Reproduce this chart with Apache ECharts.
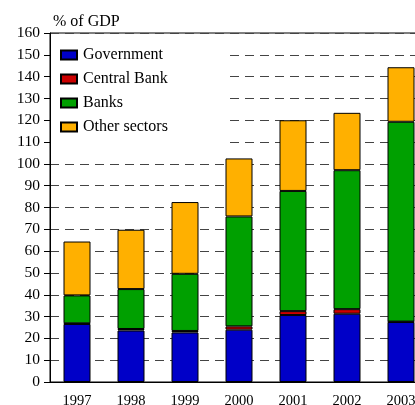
<!DOCTYPE html>
<html><head><meta charset="utf-8">
<script src="https://cdn.jsdelivr.net/npm/echarts@6/dist/echarts.min.js"></script>
<style>html,body{margin:0;padding:0;background:#fff}#c{width:415px;height:405px}</style>
</head><body><div id="c"></div>
<script>
const categories = ['1997','1998','1999','2000','2001','2002','2003'];
const government = [26.6, 23.6, 22.7, 24.0, 30.7, 31.3, 27.5];
const centralBank = [0.3, 0.7, 0.7, 1.5, 1.8, 2.1, 0.2];
const banks = [12.8, 18.3, 26.2, 50.4, 55.1, 63.7, 91.6];
const otherSectors = [24.7, 27.2, 32.9, 26.6, 32.4, 26.3, 25.0];
const yTicks = [0,10,20,30,40,50,60,70,80,90,100,110,120,130,140,150,160];

const font = 'Liberation Serif';
const chart = echarts.init(document.getElementById('c'), null, {renderer:'canvas'});
function mk(name, data, color){
  return {name, type:'bar', stack:'t', data, barWidth:27,
    itemStyle:{color, borderColor:'#000', borderWidth:1}};
}
chart.setOption({
  animation:false,
  title:{text:'% of GDP', left:48, top:9, textStyle:{fontFamily:font, fontSize:16, fontWeight:'normal', color:'#000'}},
  grid:{left:50, top:33, height:349, width:378, outerBoundsMode:'none', containLabel:false,
    show:true, borderColor:'#000', borderWidth:1, backgroundColor:'transparent'},
  legend:{orient:'vertical', left:51, top:34, padding:[13,57,8,9], backgroundColor:'#fff',
    itemWidth:16, itemHeight:9, itemGap:8, icon:'rect',
    textStyle:{fontFamily:font, fontSize:16, color:'#000', padding:[0,0,0,1]},
    data:['Government','Central Bank','Banks','Other sectors']},
  xAxis:{type:'category', data:categories,
    axisLine:{lineStyle:{color:'#000'}}, axisTick:{alignWithLabel:true, length:4, lineStyle:{color:'#000'}},
    axisLabel:{fontFamily:font, fontSize:14.5, color:'#000', margin:12}},
  yAxis:{type:'value', min:0, max:160, interval:10,
    axisLine:{show:true, lineStyle:{color:'#000'}},
    axisTick:{show:true, length:6, lineStyle:{color:'#000'}},
    axisLabel:{fontFamily:font, fontSize:15.5, color:'#000', margin:10,
      formatter:v=>yTicks.includes(v)?String(v):''},
    splitLine:{show:true, lineStyle:{type:[9,6], color:'#444', width:1}}},
  series:[
    mk('Government', government, '#0000c8'),
    mk('Central Bank', centralBank, '#cc0000'),
    mk('Banks', banks, '#00a000'),
    mk('Other sectors', otherSectors, '#ffb000')
  ]
});
</script></body></html>
